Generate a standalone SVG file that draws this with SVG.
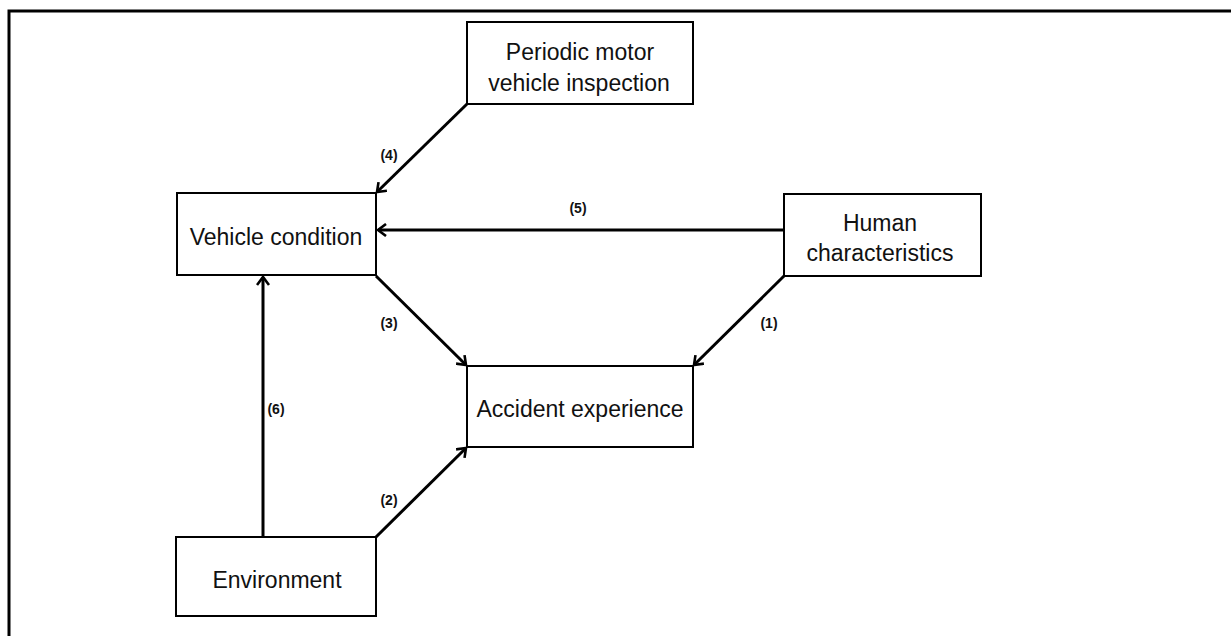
<svg xmlns="http://www.w3.org/2000/svg" width="1231" height="636" viewBox="0 0 1231 636">
<style>
.box{fill:#fff;stroke:#000;stroke-width:2}
.nt{font-family:"Liberation Sans",Arial,sans-serif;font-size:23px;fill:#111;text-anchor:middle}
.lbl{font-family:"Liberation Sans",Arial,sans-serif;font-size:14px;font-weight:bold;fill:#111;text-anchor:middle}
.ar{stroke:#000;stroke-width:3;fill:none;marker-end:url(#ah)}
.frame{stroke:#000;stroke-width:3;fill:none}
</style>
<defs>
<marker id="ah" markerWidth="14" markerHeight="14" refX="11" refY="7" orient="auto" markerUnits="userSpaceOnUse">
<path d="M3,1 L11,7 L3,13" fill="none" stroke="#000" stroke-width="2.6"/>
</marker>
</defs>
<rect width="1231" height="636" fill="#fff"/>
<path class="frame" d="M9,636 L9,11 L1231,11"/>
<g id="connectors">
<line class="ar" x1="467" y1="104" x2="377" y2="192"/>
<line class="ar" x1="784" y1="230" x2="378" y2="230"/>
<line class="ar" x1="376" y1="276" x2="466" y2="365"/>
<line class="ar" x1="784" y1="276" x2="694" y2="365"/>
<line class="ar" x1="376" y1="537" x2="466" y2="448"/>
<line class="ar" x1="263" y1="537" x2="263" y2="277"/>
<text class="lbl" x="389" y="160">(4)</text>
<text class="lbl" x="578" y="213">(5)</text>
<text class="lbl" x="389" y="328">(3)</text>
<text class="lbl" x="769" y="328">(1)</text>
<text class="lbl" x="276" y="414">(6)</text>
<text class="lbl" x="389" y="505">(2)</text>
</g>
<g id="periodic">
<rect class="box" x="467" y="22" width="226" height="82"/>
<text class="nt" x="580" y="60">Periodic motor</text>
<text class="nt" x="579" y="91">vehicle inspection</text>
</g>
<g id="vehicle">
<rect class="box" x="177" y="193" width="199" height="82"/>
<text class="nt" x="276" y="245">Vehicle condition</text>
</g>
<g id="human">
<rect class="box" x="784" y="194" width="197" height="82"/>
<text class="nt" x="880" y="231">Human</text>
<text class="nt" x="880" y="261">characteristics</text>
</g>
<g id="accident">
<rect class="box" x="467" y="366" width="226" height="81"/>
<text class="nt" x="580" y="417">Accident experience</text>
</g>
<g id="environment">
<rect class="box" x="176" y="537" width="200" height="79"/>
<text class="nt" x="277" y="588">Environment</text>
</g>
</svg>
